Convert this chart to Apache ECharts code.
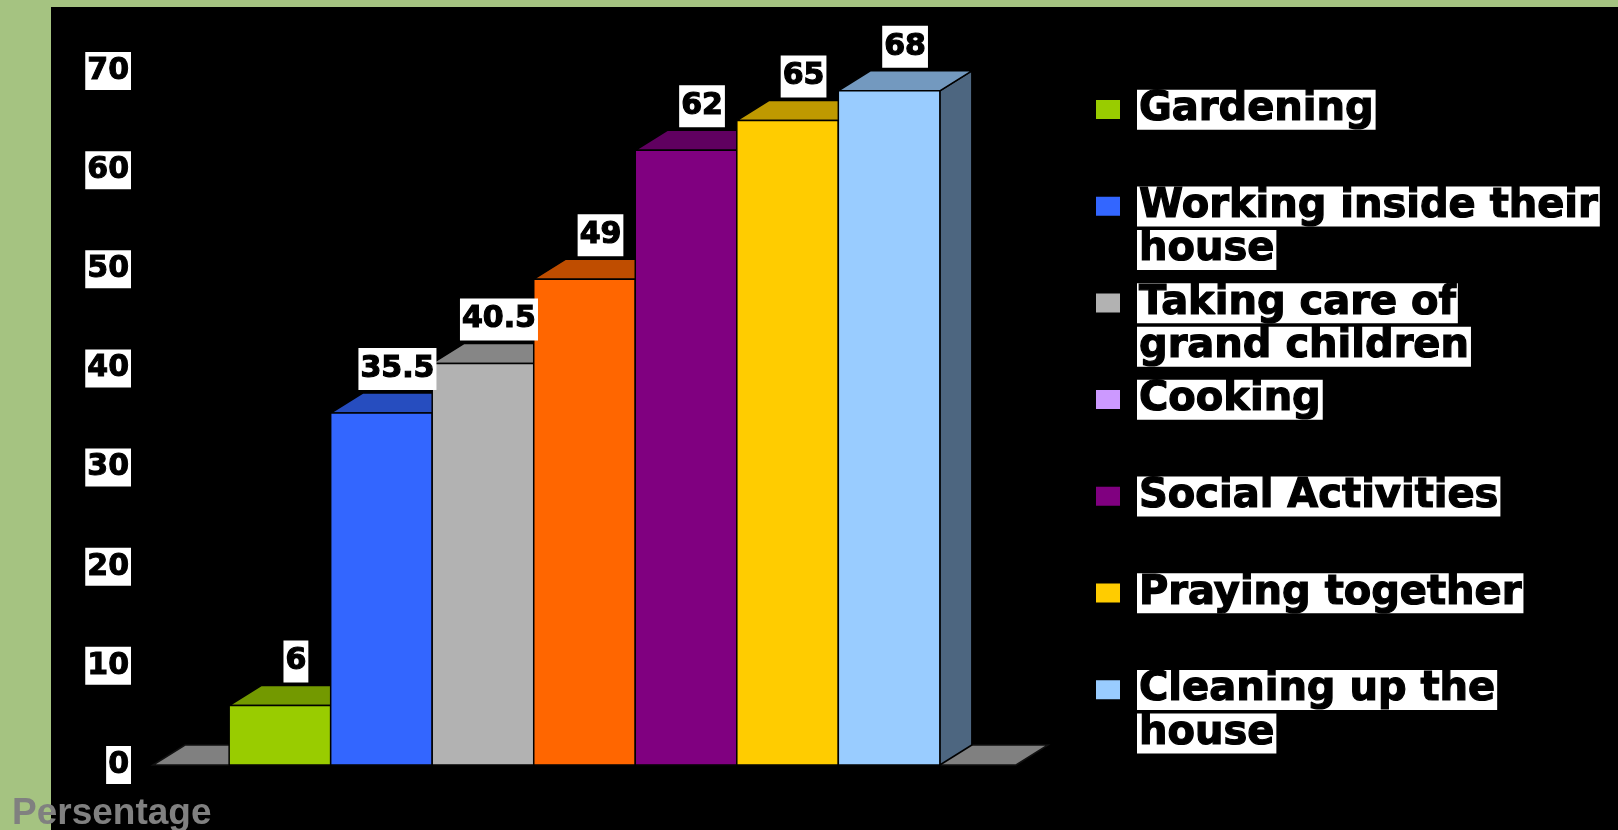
<!DOCTYPE html>
<html>
<head>
<meta charset="utf-8">
<script src="https://cdn.jsdelivr.net/npm/echarts@6/dist/echarts.min.js"></script>
<style>
html,body{margin:0;padding:0;background:#a5c381;}
#chart{width:1618px;height:830px;}
</style>
</head>
<body>
<div id="chart"></div>
<script>
// ---- data ----
const categories = ['Gardening', 'Working inside their\nhouse', 'Taking care of\ngrand children', 'Cooking', 'Social Activities', 'Praying together', 'Cleaning up the\nhouse'];
const values = [6, 35.5, 40.5, 49, 62, 65, 68];
const barColors = ['#99cc00', '#3366ff', '#b2b2b2', '#ff6600', '#800080', '#ffcc00', '#99ccff'];
const legendColors = ['#99cc00', '#3366ff', '#b2b2b2', '#cc99ff', '#800080', '#ffcc00', '#99ccff'];
const yAxisTitle = 'Persentage';

// ---- layout constants ----
const X_MIN = -1.25, X_MAX = 7.25;
const DX = 32, DY = 20;
const FONT = '"DejaVu Sans", Verdana, sans-serif';

function shade(hex, f) {
  const n = parseInt(hex.slice(1), 16);
  const r = Math.round(((n >> 16) & 255) * f);
  const g = Math.round(((n >> 8) & 255) * f);
  const b = Math.round((n & 255) * f);
  return 'rgb(' + r + ',' + g + ',' + b + ')';
}

const chart = echarts.init(document.getElementById('chart'), null, {renderer: 'canvas'});

function barRender(color) {
  return function (params, api) {
    const x = api.value(0), v = api.value(1);
    const top = api.coord([x, v]);
    const base = api.coord([x, 0]);
    const w = api.size([1, 0])[0];
    const x0 = top[0] - w / 2, x1 = top[0] + w / 2;
    const ty = top[1], by = base[1];
    const topColor = shade(color, 0.75);
    const sideColor = shade(color, 0.5);
    const stroke = {stroke: '#000', lineWidth: 1.5, lineJoin: 'round'};
    const labelBottom = ty - DY - 3;
    return {
      type: 'group',
      children: [
        {type: 'polygon', shape: {points: [[x1, ty], [x1 + DX, ty - DY], [x1 + DX, by - DY], [x1, by]]},
          style: Object.assign({fill: sideColor}, stroke)},
        {type: 'polygon', shape: {points: [[x0, ty], [x0 + DX, ty - DY], [x1 + DX, ty - DY], [x1, ty]]},
          style: Object.assign({fill: topColor}, stroke)},
        {type: 'rect', shape: {x: x0, y: ty, width: w, height: by - ty},
          style: Object.assign({fill: color}, stroke)},
        {type: 'text', z2: 10, style: {
          text: String(v), x: top[0] + DX / 2, y: labelBottom,
          align: 'center', verticalAlign: 'bottom',
          fontSize: 30, fontWeight: 'bold', fontFamily: FONT, lineHeight: 30,
          fill: '#000', stroke: '#000', lineWidth: 1.2,
          backgroundColor: '#fff', padding: [6, 2, 6, 2]
        }}
      ]
    };
  };
}

const series = [{
  type: 'custom',
  name: '__floor',
  silent: true,
  data: [[0, 0]],
  renderItem: function (params, api) {
    const l = api.coord([X_MIN, 0]);
    const r = api.coord([X_MAX, 0]);
    return {
      type: 'polygon',
      shape: {points: [[l[0], l[1]], [l[0] + DX, l[1] - DY], [r[0] + DX, r[1] - DY], [r[0], r[1]]]},
      style: {fill: '#808080', stroke: '#111', lineWidth: 1.5}
    };
  }
}];

categories.forEach(function (name, i) {
  series.push({
    type: 'custom',
    name: name,
    itemStyle: {color: barColors[i]},
    data: [[i, values[i]]],
    renderItem: barRender(barColors[i])
  });
});

const option = {
  backgroundColor: '#a5c381',
  animation: false,
  graphic: [
    {type: 'rect', left: 51, top: 7, z: -100, shape: {width: 1567, height: 823}, style: {fill: '#000'}},
    {type: 'text', x: 12, y: 814, z: 100, style: {
      text: yAxisTitle, fill: '#808080', fontSize: 37, fontWeight: 'bold',
      fontFamily: '"Liberation Sans", Arial, sans-serif', verticalAlign: 'middle', align: 'left'
    }}
  ],
  grid: {left: 153, right: 602, top: 71, bottom: 65, containLabel: false},
  xAxis: {
    type: 'value', min: X_MIN, max: X_MAX,
    show: false
  },
  yAxis: {
    type: 'value', min: 0, max: 70, interval: 10,
    axisLine: {show: false}, axisTick: {show: false}, splitLine: {show: false},
    axisLabel: {
      margin: 22, fontSize: 30, fontWeight: 'bold', fontFamily: FONT, color: '#000',
      textBorderColor: '#000', textBorderWidth: 1,
      backgroundColor: '#fff', padding: [4, 2, 4, 2], lineHeight: 30
    }
  },
  legend: {
    orient: 'vertical',
    left: 1096, top: 88,
    padding: 0,
    itemGap: 9.7,
    itemWidth: 36, itemHeight: 87,
    selectedMode: false,
    icon: 'path://M0,0L0.01,0M36,87L35.99,87M0,12H24V31H0Z',
    data: categories.map(function (n, i) { return {name: n, itemStyle: {color: legendColors[i]}}; }),
    formatter: function (name) {
      const lines = name.split('\n');
      if (lines.length === 1) return '{a|' + lines[0] + '}\n{e| }';
      return lines.map(function (l) { return '{a|' + l + '}'; }).join('\n');
    },
    textStyle: {
      rich: {
        a: {fontSize: 40, fontWeight: 'bold', fontFamily: FONT, color: '#000',
          textBorderColor: '#000', textBorderWidth: 1.2,
          backgroundColor: '#fff', lineHeight: 43.5, padding: [0, 2, 0, 2]},
        e: {fontSize: 40, lineHeight: 43.5, color: 'transparent'}
      }
    }
  },
  series: series
};
chart.setOption(option);
</script>
</body>
</html>
